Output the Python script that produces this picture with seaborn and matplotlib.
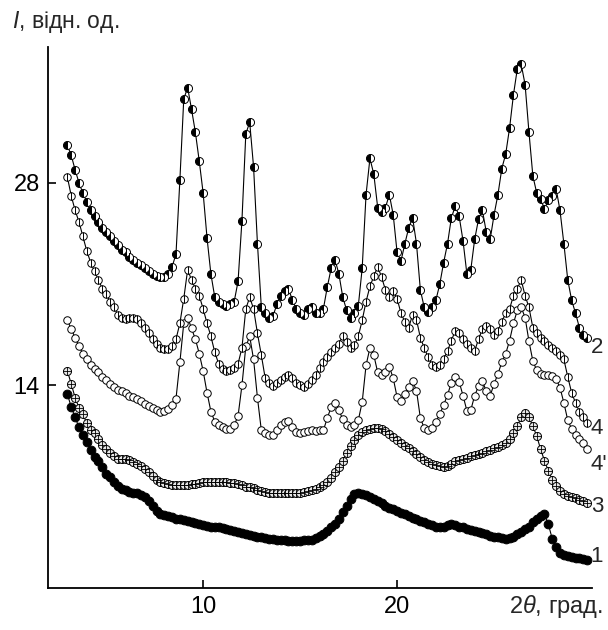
import matplotlib
matplotlib.use("Agg")
import matplotlib.pyplot as plt
import seaborn as sns
import pandas as pd

# 2θ grid of the measured points (degrees)
two_theta = [3.0, 3.2, 3.4, 3.6, 3.8, 4.0, 4.2, 4.4, 4.6, 4.8,
             5.0, 5.2, 5.4, 5.6, 5.8, 6.0, 6.2, 6.4, 6.6, 6.8,
             7.0, 7.2, 7.4, 7.6, 7.8, 8.0, 8.2, 8.4, 8.6, 8.8,
             9.0, 9.2, 9.4, 9.6, 9.8, 10.0, 10.2, 10.4, 10.6, 10.8,
             11.0, 11.2, 11.4, 11.6, 11.8, 12.0, 12.2, 12.4, 12.6, 12.8,
             13.0, 13.2, 13.4, 13.6, 13.8, 14.0, 14.2, 14.4, 14.6, 14.8,
             15.0, 15.2, 15.4, 15.6, 15.8, 16.0, 16.2, 16.4, 16.6, 16.8,
             17.0, 17.2, 17.4, 17.6, 17.8, 18.0, 18.2, 18.4, 18.6, 18.8,
             19.0, 19.2, 19.4, 19.6, 19.8, 20.0, 20.2, 20.4, 20.6, 20.8,
             21.0, 21.2, 21.4, 21.6, 21.8, 22.0, 22.2, 22.4, 22.6, 22.8,
             23.0, 23.2, 23.4, 23.6, 23.8, 24.0, 24.2, 24.4, 24.6, 24.8,
             25.0, 25.2, 25.4, 25.6, 25.8, 26.0, 26.2, 26.4, 26.6, 26.8,
             27.0, 27.2, 27.4, 27.6, 27.8, 28.0, 28.2, 28.4, 28.6, 28.8,
             29.0, 29.2, 29.4, 29.6, 29.8]

curve_2 = [30.6, 29.9, 28.9, 28.0, 27.3, 26.7, 26.1, 25.7, 25.3, 24.9,
           24.6, 24.3, 24.0, 23.7, 23.4, 23.2, 22.9, 22.7, 22.5, 22.3,
           22.1, 21.9, 21.7, 21.6, 21.5, 21.5, 21.7, 22.2, 23.1, 28.2,
           33.8, 34.6, 33.1, 31.5, 29.5, 27.3, 24.2, 21.7, 20.1, 19.8,
           19.6, 19.5, 19.6, 19.8, 21.2, 25.4, 31.4, 32.2, 29.1, 23.8,
           19.4, 19.0, 18.7, 18.8, 19.6, 20.2, 20.5, 20.7, 19.9, 19.3,
           19.0, 18.9, 19.3, 19.4, 19.0, 19.0, 19.3, 20.8, 22.1, 22.7,
           21.7, 20.1, 19.2, 18.7, 19.0, 19.5, 22.1, 27.2, 29.7, 28.6,
           26.3, 26.0, 26.3, 27.2, 25.8, 23.2, 22.6, 23.8, 24.9, 25.6,
           23.8, 20.6, 19.4, 19.1, 19.4, 19.9, 21.0, 22.5, 23.8, 25.6,
           26.4, 25.7, 24.0, 21.7, 22.0, 24.1, 25.5, 26.1, 24.6, 24.1,
           25.8, 27.2, 29.0, 30.0, 31.8, 34.1, 35.9, 36.2, 34.8, 31.5,
           28.5, 27.3, 26.9, 26.2, 26.8, 27.1, 27.6, 26.1, 23.8, 21.3,
           19.9, 19.0, 18.0, 17.5, 17.3]

curve_4 = [28.4, 27.1, 26.1, 25.3, 24.3, 23.3, 22.5, 21.9, 21.3, 20.7,
           20.3, 19.8, 19.4, 18.9, 18.7, 18.6, 18.65, 18.7, 18.6, 18.3,
           18.0, 17.6, 17.2, 16.9, 16.6, 16.5, 16.55, 16.7, 17.2, 18.3,
           20.0, 22.0, 21.3, 20.7, 20.2, 19.3, 18.3, 17.4, 16.3, 15.5,
           15.15, 15.0, 15.05, 15.2, 15.5, 16.6, 19.3, 20.1, 19.3, 17.6,
           16.1, 14.5, 14.2, 13.95, 14.2, 14.4, 14.6, 14.75, 14.5, 14.2,
           14.0, 13.9, 14.1, 14.4, 14.7, 15.2, 15.6, 16.0, 16.3, 16.6,
           16.9, 17.4, 17.0, 16.6, 16.8, 17.4, 18.5, 19.8, 20.85, 21.55,
           22.2, 21.5, 20.6, 20.1, 20.5, 20.0, 19.0, 18.4, 18.0, 18.9,
           18.55, 17.3, 16.6, 15.95, 15.45, 15.3, 15.45, 15.8, 16.4, 17.1,
           17.8, 17.6, 17.2, 16.9, 16.6, 16.4, 17.2, 17.9, 18.1, 17.9,
           17.5, 17.8, 18.4, 19.0, 19.3, 20.2, 20.7, 21.3, 20.2, 19.4,
           18.0, 17.6, 17.3, 17.1, 16.8, 16.6, 16.4, 16.1, 15.8, 14.6,
           13.5, 12.8, 12.2, 11.8, 11.4]

curve_4p = [18.5, 17.9, 17.3, 16.7, 16.2, 15.8, 15.45, 15.15, 14.9, 14.6,
            14.35, 14.1, 13.9, 13.7, 13.6, 13.45, 13.3, 13.2, 13.1, 12.9,
            12.75, 12.6, 12.45, 12.3, 12.2, 12.25, 12.35, 12.65, 13.1, 15.6,
            18.3, 18.7, 17.95, 17.2, 16.2, 15.0, 13.5, 12.2, 11.5, 11.25,
            11.1, 11.0, 11.0, 11.25, 11.9, 14.0, 16.7, 17.4, 15.8, 13.15,
            10.9, 10.7, 10.55, 10.55, 10.9, 11.3, 11.5, 11.55, 11.1, 10.8,
            10.7, 10.75, 10.85, 10.9, 10.85, 10.9, 10.9, 11.75, 12.5, 12.8,
            12.3, 11.65, 11.3, 11.1, 11.3, 11.6, 12.85, 15.4, 16.6, 16.1,
            14.9, 14.7, 14.9, 15.3, 14.5, 13.2, 12.9, 13.4, 13.9, 14.3,
            13.65, 11.75, 11.05, 10.9, 11.05, 11.5, 12.0, 12.65, 13.35, 14.2,
            14.6, 14.25, 13.3, 12.25, 12.3, 13.3, 13.95, 14.3, 13.6, 13.3,
            14.1, 14.8, 15.6, 16.2, 17.1, 18.3, 19.2, 19.4, 18.7, 17.05,
            15.7, 15.05, 14.8, 14.75, 14.7, 14.65, 14.45, 13.85, 12.8, 11.6,
            11.0, 10.6, 10.3, 10.0, 9.6]

curve_3 = [15.0, 14.1, 13.15, 12.45, 12.0, 11.4, 10.9, 10.7, 10.3, 9.9,
           9.6, 9.35, 9.15, 8.95, 8.9, 8.9, 8.85, 8.7, 8.55, 8.4,
           8.2, 8.0, 7.75, 7.5, 7.35, 7.25, 7.2, 7.15, 7.1, 7.1,
           7.1, 7.15, 7.2, 7.2, 7.25, 7.3, 7.3, 7.35, 7.35, 7.3,
           7.3, 7.3, 7.25, 7.25, 7.2, 7.1, 7.0, 6.95, 6.9, 6.8,
           6.7, 6.65, 6.6, 6.6, 6.55, 6.55, 6.55, 6.55, 6.55, 6.6,
           6.6, 6.65, 6.7, 6.75, 6.85, 6.95, 7.1, 7.3, 7.6, 8.0,
           8.35, 8.8, 9.3, 9.8, 10.2, 10.55, 10.75, 10.9, 11.0, 11.05,
           11.05, 11.0, 10.85, 10.65, 10.45, 10.25, 10.05, 9.85, 9.65, 9.45,
           9.25, 9.05, 8.85, 8.7, 8.6, 8.5, 8.45, 8.35, 8.45, 8.6,
           8.75, 8.85, 8.95, 9.0, 9.1, 9.2, 9.25, 9.35, 9.45, 9.55,
           9.65, 9.75, 9.9, 10.05, 10.3, 10.7, 11.2, 11.8, 12.1, 11.8,
           11.2, 10.5, 9.6, 8.8, 8.1, 7.5, 7.05, 6.7, 6.5, 6.35,
           6.3, 6.2, 6.1, 6.0, 5.9]

curve_1 = [13.4, 12.5, 11.8, 11.1, 10.55, 10.1, 9.55, 9.05, 8.75, 8.35,
           7.9, 7.65, 7.35, 7.05, 6.85, 6.75, 6.65, 6.6, 6.55, 6.45,
           6.3, 6.0, 5.65, 5.35, 5.15, 5.05, 4.95, 4.9, 4.8, 4.75,
           4.7, 4.6, 4.55, 4.5, 4.45, 4.35, 4.3, 4.25, 4.2, 4.2,
           4.15, 4.1, 4.0, 3.95, 3.85, 3.8, 3.7, 3.65, 3.6, 3.55,
           3.5, 3.45, 3.4, 3.4, 3.35, 3.3, 3.3, 3.25, 3.25, 3.25,
           3.25, 3.3, 3.3, 3.35, 3.45, 3.6, 3.75, 3.95, 4.2, 4.45,
           4.8, 5.25, 5.7, 6.15, 6.5, 6.6, 6.5, 6.4, 6.3, 6.15,
           6.0, 5.85, 5.7, 5.55, 5.45, 5.3, 5.2, 5.1, 4.95, 4.85,
           4.75, 4.65, 4.55, 4.45, 4.35, 4.25, 4.2, 4.25, 4.35, 4.4,
           4.35, 4.25, 4.2, 4.1, 4.0, 3.95, 3.85, 3.8, 3.7, 3.6,
           3.55, 3.5, 3.45, 3.4, 3.45, 3.55, 3.7, 3.85, 4.05, 4.25,
           4.55, 4.8, 4.95, 5.1, 4.4, 3.4, 2.8, 2.4, 2.3, 2.2,
           2.15, 2.1, 2.05, 2.0, 1.95]

curve_labels = ["2", "4", "4'", "3", "1"]
label_levels = [16.6, 11.0, 8.55, 5.65, 2.2]
x_ticks = [10, 20]
y_ticks = [14, 28]

sns.set_theme(style="white")
plt.rcParams["font.family"] = ["Liberation Sans", "DejaVu Sans"]
plt.rcParams["mathtext.fontset"] = "custom"
plt.rcParams["mathtext.it"] = "Liberation Sans:italic"
plt.rcParams["mathtext.rm"] = "Liberation Sans"

fig = plt.figure(figsize=(6.08, 6.30), dpi=100)
ax = fig.add_axes([48 / 608, 42 / 630, 544 / 608, 541 / 630])

df = pd.DataFrame({"x": two_theta, "c1": curve_1, "c3": curve_3,
                   "c4p": curve_4p, "c4": curve_4, "c2": curve_2})

ms = 5.4


def common(size):
    return dict(ax=ax, color="black", linewidth=0.8, sort=False,
                estimator=None, markersize=size, markeredgecolor="black",
                markeredgewidth=0.7)


# curve 1: filled black circles
sns.lineplot(data=df, x="x", y="c1", marker="o", markerfacecolor="black",
             **common(6.3))
# curve 3: circles with a cross
sns.lineplot(data=df, x="x", y="c3", marker="o", markerfacecolor="#e6e6e6",
             **common(5.8))
sns.lineplot(data=df, x="x", y="c3", marker="+", linestyle="none",
             ax=ax, color="black", sort=False, estimator=None,
             markersize=5.8, markeredgecolor="black", markeredgewidth=0.6)
# curve 4': open circles
sns.lineplot(data=df, x="x", y="c4p", marker="o", markerfacecolor="white",
             **common(ms))
# curve 4: circles with a vertical bar
sns.lineplot(data=df, x="x", y="c4", marker="o", markerfacecolor="white",
             **common(ms))
sns.lineplot(data=df, x="x", y="c4", marker="|", linestyle="none",
             ax=ax, color="black", sort=False, estimator=None,
             markersize=ms, markeredgecolor="black", markeredgewidth=0.7)
# curve 2: half-filled circles
sns.lineplot(data=df, x="x", y="c2", marker="o", fillstyle="left",
             markerfacecolor="black", markerfacecoloralt="white",
             **common(5.8))

ax.set_xlim(2.0, 30.05)
ax.set_ylim(0, 37.4)
ax.set_xticks(x_ticks)
ax.set_yticks(y_ticks)
ax.set_xlabel("")
ax.set_ylabel("")
for side in ["top", "right"]:
    ax.spines[side].set_visible(False)
for side in ["left", "bottom"]:
    ax.spines[side].set_linewidth(1.3)
    ax.spines[side].set_color("black")
ax.tick_params(axis="both", direction="in", length=6, width=1.2,
               labelsize=17, colors="black", pad=6,
               bottom=True, left=True)

for lab, lev in zip(curve_labels, label_levels):
    ax.text(29.98, lev, lab, fontsize=16, ha="left", va="center",
            clip_on=False)

fig.text(12 / 608, 1 - 28 / 630, r"$I$, відн. од.", fontsize=16.5,
         ha="left", va="baseline")
fig.text(603 / 608, 1 - 613 / 630, r"2$\theta$, град.", fontsize=17,
         ha="right", va="baseline")

fig.savefig("out.png", dpi=100)
